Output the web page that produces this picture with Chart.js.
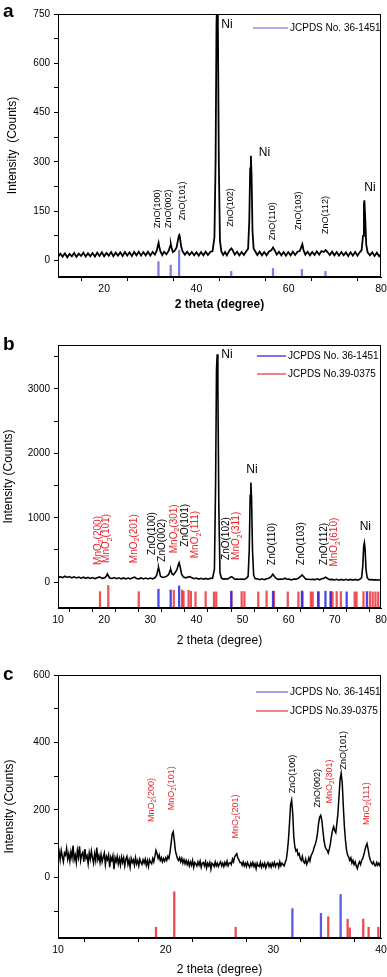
<!DOCTYPE html>
<html>
<head>
<meta charset="utf-8">
<script src="https://cdn.jsdelivr.net/npm/chart.js@4.4.1/dist/chart.umd.min.js"></script>
<style>
  html, body { margin: 0; padding: 0; background: #fff; }
  body { width: 387px; height: 977px; position: relative; overflow: hidden; font-family: "Liberation Sans", Arial, sans-serif; }
  .panel { position: absolute; left: 0; width: 387px; }
  .tag { position: absolute; left: 3px; font-weight: bold; font-size: 19px; line-height: 19px; }
</style>
</head>
<body>
<div class="panel" style="top:0;height:320px"><canvas id="chartA"></canvas></div>
<div class="panel" style="top:320px;height:330px"><canvas id="chartB"></canvas></div>
<div class="panel" style="top:650px;height:327px"><canvas id="chartC"></canvas></div>
<div class="tag" style="top:1px">a</div>
<div class="tag" style="top:334px">b</div>
<div class="tag" style="top:664px">c</div>
<script>
// ---- panel a : measured pattern ----
const aTheta = [10,10.5,11,11.5,12,12.5,13,13.5,14,14.5,15,15.5,16,16.5,17,17.5,18,18.5,19,19.5,
  20,20.5,21,21.5,22,22.5,23,23.5,24,24.5,25,25.5,26,26.5,27,27.5,28,28.5,29,29.5,
  30,30.5,31,31.4,31.65,31.8,31.95,32.2,32.6,33,33.5,34,34.3,34.45,34.6,34.9,35.3,35.7,36.0,36.2,36.3,36.45,36.7,
  37,37.5,38,38.5,39,39.5,40,40.5,41,41.5,42,42.5,43,43.5,43.9,44.15,44.35,44.5,44.65,44.85,45.1,45.4,45.8,
  46.2,46.6,47.0,47.3,47.6,47.9,48.3,48.8,49.3,49.8,50.3,50.8,51.2,51.45,51.65,51.8,51.95,52.15,52.4,52.8,
  53.2,53.7,54.2,54.7,55.2,55.7,56.2,56.6,57.0,57.4,57.9,58.4,58.9,59.4,59.9,60.4,60.9,61.4,61.9,62.4,62.8,62.95,
  63.2,63.6,64.1,64.6,65.1,65.6,66.1,66.6,67.1,67.6,68.0,68.4,68.9,69.4,69.9,70.4,70.9,71.4,71.9,72.4,72.9,
  73.4,73.9,74.4,74.9,75.4,75.8,76.1,76.3,76.4,76.55,76.8,77.1,77.6,78.1,78.6,79.1,79.6,80];
const aCounts = [11,21,12,22,10,20,13,23,11,21,14,24,12,22,13,23,12,24,14,25,
  13,23,15,26,13,24,15,25,14,26,15,25,14,26,16,27,15,26,16,27,
  15,26,18,30,46,54,42,28,17,27,19,30,44,50,40,26,30,40,62,76,78,68,42,
  28,18,27,17,26,16,25,15,26,16,27,17,26,29,70,300,720,800,720,300,60,28,17,
  26,16,27,33,37,30,18,27,16,26,17,28,36,120,280,319,260,90,36,27,
  17,27,16,26,16,27,31,40,30,18,27,16,26,15,26,16,27,17,27,29,44,50,
  32,18,27,16,26,17,28,18,29,26,32,26,17,27,16,26,15,26,16,25,14,
  25,15,26,15,25,32,75,172,183,140,48,25,16,25,14,24,13,20];
// ---- panel a : JCPDS 36-1451 sticks ----
const aZnoTheta = [31.77, 34.42, 36.25, 47.54, 56.6, 62.86, 67.96];
const aZnoTop = [-3, -14, 32, -33, -24, -27, -33];
const aLabels = ['ZnO(100)', 'ZnO(002)', 'ZnO(101)', 'ZnO(102)', 'ZnO(110)', 'ZnO(103)', 'ZnO(112)'];
const aLabelTheta = [31.5, 33.9, 36.9, 47.3, 56.5, 62.1, 67.9];
const aLabelBase = [99, 99, 123, 103, 62, 93, 81];
const aNiTheta = [46.6, 54.75, 77.6];
const aNiLevel = [717, 328, 222];
const aXTicks = [10, 20, 30, 40, 50, 60, 70, 80];
const aXLabels = [20, 40, 60, 80];
const aYTicks = [0, 75, 150, 225, 300, 375, 450, 525, 600, 675, 750];
const aYLabels = [0, 150, 300, 450, 600, 750];

// ---- panel b : measured pattern ----
const bTheta = [10,10.5,11,11.5,12,12.5,13,13.5,14,14.5,15,15.5,16,16.5,17,17.5,18,18.5,19.0,19.3,19.7,
  20.2,20.5,20.7,20.9,21.2,21.7,22.2,22.7,23.2,23.7,24.2,24.7,25.2,25.7,26.2,26.6,27.0,27.5,28,28.5,29,29.5,
  30,30.5,31,31.4,31.7,31.8,31.95,32.2,32.6,33,33.5,34.0,34.3,34.45,34.7,35.0,35.4,35.8,36.1,36.25,36.45,36.8,
  37.2,37.7,38.2,38.6,39.0,39.5,40,40.5,41,41.5,42,42.5,43,43.5,43.9,44.15,44.35,44.5,44.65,44.85,45.1,45.4,45.8,
  46.3,46.8,47.3,47.6,47.9,48.3,48.8,49.3,49.8,50.3,50.8,51.2,51.45,51.65,51.8,51.95,52.15,52.4,52.7,53.2,53.7,
  54.2,54.7,55.2,55.7,56.2,56.55,56.8,57.2,57.7,58.2,58.7,59.2,59.6,60.1,60.6,61.1,61.6,62.1,62.5,62.9,63.3,63.7,
  64.2,64.7,65.2,65.7,66.2,66.7,67.2,67.6,68.0,68.4,68.9,69.4,69.9,70.4,70.9,71.4,71.9,72.4,72.9,73.4,73.9,
  74.4,74.9,75.4,75.8,76.05,76.25,76.4,76.55,76.75,77.0,77.4,77.9,78.4,78.9,79.4,80];
const bCounts = [66,86,70,92,74,88,68,84,66,80,62,78,60,74,58,72,56,70,82,68,60,
  74,95,129,100,66,58,72,54,68,52,66,51,64,52,68,80,58,52,66,51,64,50,
  64,52,68,110,210,227,180,95,75,78,90,120,185,191,130,115,150,200,280,304,250,120,
  80,68,82,87,68,54,64,48,60,46,59,46,59,62,200,1500,3300,3535,3000,1200,150,66,48,
  52,50,75,87,70,46,50,46,49,44,59,90,500,1350,1545,1300,500,110,56,52,40,
  52,40,54,62,85,124,100,62,44,48,46,62,46,48,36,50,48,62,85,113,80,48,
  46,42,44,40,52,38,54,62,78,58,40,44,34,46,32,44,32,46,32,44,31,
  44,32,46,70,250,560,614,520,200,70,38,40,36,39,35,36];
// ---- panel b : reference sticks ----
const bZnoTheta = [31.77, 34.42, 36.25, 47.54, 56.6, 62.86, 66.38, 67.96, 69.1, 72.56, 76.95];
const bZnoTop = [-109, -119, -57, -140, -140, -135, -145, -140, -145, -150, -145];
const bMnTheta = [19.1, 20.9, 27.5, 35.1, 36.9, 37.2, 38.3, 38.8, 39.8, 42.0, 43.8, 44.3, 47.6, 49.8, 50.4,
  53.4, 55.2, 56.8, 59.8, 62.1, 63.0, 64.8, 65.2, 66.5, 69.1, 69.5, 70.4, 71.3, 74.3, 74.7, 76.2, 77.6, 78.2, 78.8, 79.4];
const bMnTop = [-146, -50, -146, -125, -120, -140, -125, -140, -150, -145, -150, -150, -140, -145, -145,
  -150, -135, -140, -150, -150, -145, -150, -150, -150, -145, -150, -145, -145, -150, -150, -145, -145, -150, -150, -150];
const bLabels = ['MnO2(200)', 'MnO2(101)', 'MnO2(201)', 'ZnO(100)', 'ZnO(002)', 'MnO2(301)', 'ZnO(101)', 'MnO2(111)',
  'ZnO(102)', 'MnO2(311)', 'ZnO(110)', 'ZnO(103)', 'ZnO(112)', 'MnO2(610)'];
const bLabelTheta = [18.7, 20.55, 26.5, 30.4, 32.7, 35.1, 37.5, 39.85, 46.4, 48.7, 56.5, 62.8, 67.65, 69.9];
const bLabelBase = [268, 299, 295, 423, 319, 450, 552, 372, 346, 346, 268, 268, 268, 242];
const bNiTheta = [46.6, 52.05, 76.6];
const bNiLevel = [3524, 1741, 862];
const bXTicks = [10, 15, 20, 25, 30, 35, 40, 45, 50, 55, 60, 65, 70, 75, 80];
const bXLabels = [10, 20, 30, 40, 50, 60, 70, 80];
const bYTicks = [0, 500, 1000, 1500, 2000, 2500, 3000, 3500];
const bYLabels = [0, 1000, 2000, 3000];

// ---- panel c : measured pattern, 10.0 to 40.0 in 0.1 degree steps ----
const cStart = 10, cStep = 0.1;
const cCounts = [
  60,76,52,80,62,46,72,66,86,54,
  70,48,76,58,94,52,66,44,80,60,
  92,50,68,74,46,84,56,64,40,72,
  54,78,58,42,70,50,88,52,64,44,
  68,46,60,72,38,62,52,66,30,60,
  50,64,24,58,46,62,40,56,36,60,
  44,58,34,54,62,38,52,30,56,44,
  52,36,58,40,50,34,54,44,38,52,
  42,54,36,50,32,52,44,40,56,46,
  62,80,70,56,66,50,58,46,56,48,
  58,50,62,56,74,100,128,135,110,80,
  66,56,50,58,46,56,42,52,40,50,
  38,48,34,46,36,50,30,44,40,34,
  46,36,48,30,42,44,34,46,28,42,
  34,44,24,42,38,32,46,34,42,32,
  40,46,34,42,32,44,36,48,34,42,
  44,38,54,46,60,66,70,58,52,44,
  44,36,46,34,42,32,44,36,30,42,
  34,44,32,40,26,42,34,32,44,30,
  40,32,42,28,38,44,32,40,30,42,
  34,44,32,40,42,30,46,34,42,38,
  34,44,52,76,110,160,215,229,190,120,
  90,78,82,66,70,56,50,62,46,42,
  54,38,46,58,48,64,70,78,90,98,
  110,130,160,178,184,170,140,110,92,84,
  80,72,84,100,122,140,150,138,132,160,
  190,240,290,309,280,210,150,110,80,66,
  60,50,58,42,50,38,46,34,26,38,
  46,38,50,56,66,80,92,100,84,64,
  52,44,40,46,36,34,44,36,42,34,
  40];
const cTheta = cCounts.map((_, i) => +(cStart + i * cStep).toFixed(1));
// ---- panel c : reference sticks ----
const cZnoTheta = [31.77, 34.42, 36.25];
const cZnoTop = [-93, -107, -51];
const cMnTheta = [19.1, 20.8, 26.5, 35.1, 36.9, 37.1, 38.35, 38.85, 39.75];
const cMnTop = [-148, -43, -148, -117, -124, -150, -124, -148, -148];
const cLabels = ['MnO2(200)', 'MnO2(101)', 'MnO2(201)', 'ZnO(100)', 'ZnO(002)', 'MnO2(301)', 'ZnO(101)', 'MnO2(111)'];
const cLabelTheta = [18.7, 20.56, 26.5, 31.75, 34.1, 35.25, 36.5, 38.65];
const cLabelBase = [164, 199, 115, 249, 207, 219, 320, 155];
const cXTicks = [10, 15, 20, 25, 30, 35, 40];
const cXLabels = [10, 20, 30, 40];
const cYTicks = [-100, 0, 100, 200, 300, 400, 500, 600];
const cYLabels = [0, 200, 400, 600];

const FONT = '"Liberation Sans", Arial, sans-serif';
const RED = '#e8262c';
Chart.defaults.font.family = FONT;
Chart.defaults.color = '#000';

function points(xs, ys) {
  return xs.map((x, i) => ({ x: x, y: ys[i] }));
}
function sticks(xs, tops, base) {
  return xs.map((x, i) => ({ x: x, y: [base, tops[i]] }));
}

// rotated peak label, MnO2 drawn with a subscript 2
function drawTag(ctx, text, px, py, color, size) {
  ctx.save();
  ctx.translate(px, py);
  ctx.rotate(-Math.PI / 2);
  ctx.fillStyle = color;
  ctx.textAlign = 'left';
  ctx.textBaseline = 'middle';
  ctx.font = size + 'px ' + FONT;
  if (text.startsWith('MnO2')) {
    ctx.fillText('MnO', 0, 0);
    let w = ctx.measureText('MnO').width;
    ctx.font = (size * 0.7) + 'px ' + FONT;
    ctx.fillText('2', w, size * 0.32);
    w += ctx.measureText('2').width;
    ctx.font = size + 'px ' + FONT;
    ctx.fillText(text.slice(4), w, 0);
  } else {
    ctx.fillText(text, 0, 0);
  }
  ctx.restore();
}

function makePanel(id, p) {
  const datasets = [{
    type: 'line',
    data: points(p.theta, p.counts),
    borderColor: '#000',
    borderWidth: p.lineWidth,
    pointRadius: 0,
    tension: 0,
    order: 1
  }];
  p.refs.forEach(r => datasets.push({
    type: 'bar',
    label: r.label,
    data: sticks(r.theta, r.top, p.yMin),
    backgroundColor: r.color,
    barThickness: 1.6,
    grouped: false,
    order: 2
  }));

  const decor = {
    id: 'decor',
    afterDatasetsDraw(chart) {
      const { ctx, chartArea: ca, scales: { x, y } } = chart;
      ctx.save();
      ctx.strokeStyle = '#000';
      ctx.lineWidth = 1;
      ctx.strokeRect(ca.left + 0.5, ca.top + 0.5, ca.width - 1, ca.height - 1);
      // peak labels
      p.tags.forEach(t => {
        t.text.forEach((s, i) => {
          const col = s.startsWith('MnO2') ? RED : '#000';
          drawTag(ctx, s, x.getPixelForValue(t.theta[i]), y.getPixelForValue(t.base[i]), col, p.tagSize);
        });
      });
      // Ni labels
      ctx.fillStyle = '#000';
      ctx.font = '12px ' + FONT;
      ctx.textAlign = 'center';
      ctx.textBaseline = 'middle';
      p.ni.theta.forEach((t, i) => ctx.fillText('Ni', x.getPixelForValue(t), y.getPixelForValue(p.ni.level[i])));
      // legend
      ctx.font = '10px ' + FONT;
      ctx.textAlign = 'left';
      p.refs.forEach((r, i) => {
        const ly = p.legend.y + i * p.legend.gap;
        ctx.strokeStyle = r.legendColor;
        ctx.lineWidth = 1.3;
        ctx.beginPath();
        ctx.moveTo(p.legend.x1, ly);
        ctx.lineTo(p.legend.x2, ly);
        ctx.stroke();
        ctx.fillStyle = '#000';
        ctx.fillText(r.label, p.legend.x2 + 2, ly + 0.5);
      });
      ctx.restore();
    }
  };

  return new Chart(document.getElementById(id), {
    type: 'line',
    data: { datasets: datasets },
    plugins: [decor],
    options: {
      responsive: true,
      maintainAspectRatio: false,
      animation: false,
      events: [],
      layout: { padding: { top: p.padTop, right: 6, left: 0, bottom: 0 } },
      plugins: { legend: { display: false }, tooltip: { enabled: false } },
      scales: {
        x: {
          type: 'linear',
          min: p.xMin,
          max: p.xMax,
          offset: false,
          afterBuildTicks: s => { s.ticks = p.xTicks.map(v => ({ value: v })); },
          afterFit: s => { s.height = p.xHeight; s.paddingLeft = 0; s.paddingRight = 0; },
          ticks: {
            autoSkip: false,
            maxRotation: 0,
            padding: 2,
            font: { size: 10.5 },
            callback: v => p.xLabels.includes(v) ? String(v) : ''
          },
          grid: { drawOnChartArea: false, tickLength: 4, tickColor: '#000', color: '#000' },
          border: { color: '#000', width: 1 },
          title: {
            display: true,
            text: '2 theta (degree)',
            font: { size: 12, weight: p.xTitleBold ? 'bold' : 'normal' },
            padding: { top: 0, bottom: p.xTitlePad }
          }
        },
        y: {
          min: p.yMin,
          max: p.yMax,
          afterBuildTicks: s => { s.ticks = p.yTicks.map(v => ({ value: v })); },
          afterFit: s => { s.width = 58; s.paddingTop = 0; s.paddingBottom = 0; },
          ticks: {
            autoSkip: false,
            padding: 4,
            font: { size: 10 },
            callback: v => p.yLabels.includes(v) ? String(v) : ''
          },
          grid: { drawOnChartArea: false, tickLength: 4, tickColor: '#000', color: '#000' },
          border: { color: '#000', width: 1 },
          title: {
            display: true,
            text: p.yTitle,
            font: { size: 12 },
            padding: { top: p.yTitlePad, bottom: 0 }
          }
        }
      }
    }
  });
}

makePanel('chartA', {
  theta: aTheta, counts: aCounts, lineWidth: 1.8,
  refs: [{ label: 'JCPDS No. 36-1451', theta: aZnoTheta, top: aZnoTop, color: '#8080e0', legendColor: '#9090e8' }],
  tags: [{ text: aLabels, theta: aLabelTheta, base: aLabelBase }],
  tagSize: 9,
  ni: { theta: aNiTheta, level: aNiLevel },
  legend: { x1: 253, x2: 288, y: 28, gap: 18 },
  xMin: 10, xMax: 80, xTicks: aXTicks, xLabels: aXLabels,
  yMin: -50, yMax: 750, yTicks: aYTicks, yLabels: aYLabels,
  padTop: 14, xHeight: 43, xTitleBold: true, xTitlePad: 8,
  yTitle: 'Intensity  (Counts)', yTitlePad: 5
});

makePanel('chartB', {
  theta: bTheta, counts: bCounts, lineWidth: 1.6,
  refs: [
    { label: 'JCPDS No. 36-1451', theta: bZnoTheta, top: bZnoTop, color: 'rgba(40,40,225,0.85)', legendColor: '#3030d8' },
    { label: 'JCPDS No.39-0375', theta: bMnTheta, top: bMnTop, color: 'rgba(232,40,48,0.8)', legendColor: '#e04050' }
  ],
  tags: [{ text: bLabels, theta: bLabelTheta, base: bLabelBase }],
  tagSize: 10,
  ni: { theta: bNiTheta, level: bNiLevel },
  legend: { x1: 257, x2: 286, y: 36, gap: 18 },
  xMin: 10, xMax: 80, xTicks: bXTicks, xLabels: bXLabels,
  yMin: -400, yMax: 3680, yTicks: bYTicks, yLabels: bYLabels,
  padTop: 25, xHeight: 42, xTitleBold: false, xTitlePad: 2,
  yTitle: 'Intensity (Counts)', yTitlePad: 1
});

makePanel('chartC', {
  theta: cTheta, counts: cCounts, lineWidth: 1.5,
  refs: [
    { label: 'JCPDS No. 36-1451', theta: cZnoTheta, top: cZnoTop, color: 'rgba(60,60,225,0.85)', legendColor: '#7070e0' },
    { label: 'JCPDS No.39-0375', theta: cMnTheta, top: cMnTop, color: 'rgba(232,40,48,0.85)', legendColor: '#e84050' }
  ],
  tags: [{ text: cLabels, theta: cLabelTheta, base: cLabelBase }],
  tagSize: 9,
  ni: { theta: [], level: [] },
  legend: { x1: 256, x2: 288, y: 42, gap: 19 },
  xMin: 10, xMax: 40, xTicks: cXTicks, xLabels: cXLabels,
  yMin: -180, yMax: 600, yTicks: cYTicks, yLabels: cYLabels,
  padTop: 25, xHeight: 39, xTitleBold: false, xTitlePad: 0,
  yTitle: 'Intensity (Counts)', yTitlePad: 2
});
</script>
</body>
</html>
